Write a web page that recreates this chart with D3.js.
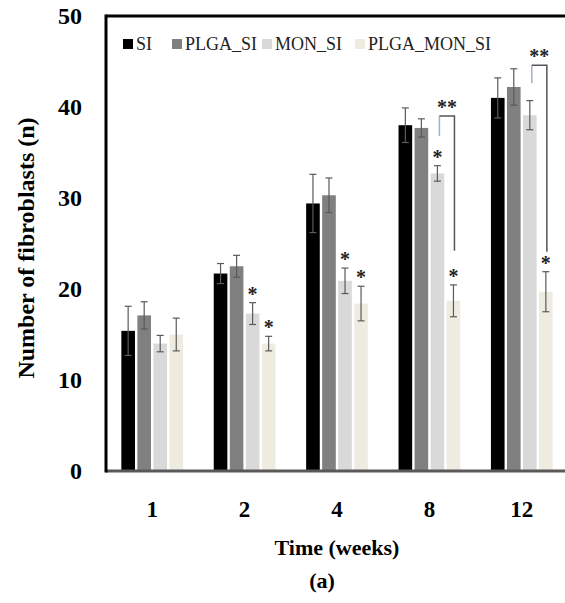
<!DOCTYPE html>
<html>
<head>
<meta charset="utf-8">
<script src="https://cdn.jsdelivr.net/npm/d3@7"></script>
<style>
  body { margin: 0; background: #fff; }
  text { font-family: "Liberation Serif", "Times New Roman", serif; }
</style>
</head>
<body>
<div id="chart"></div>
<script>
var weeks = ["1", "2", "4", "8", "12"];
var series = ["SI", "PLGA_SI", "MON_SI", "PLGA_MON_SI"];
var colors = ["#000000", "#808080", "#d9d9d9", "#eeece1"];

// mean values per series, one per week
var siVals       = [15.4, 21.7, 29.4, 38.0, 41.0];
var plgaSiVals   = [17.1, 22.5, 30.3, 37.7, 42.2];
var monSiVals    = [14.0, 17.3, 20.9, 32.7, 39.1];
var plgaMonVals  = [15.0, 14.0, 18.4, 18.7, 19.7];

// error bar half-widths
var siErr        = [2.7, 1.1, 3.2, 1.9, 2.2];
var plgaSiErr    = [1.5, 1.2, 1.9, 1.0, 2.0];
var monSiErr     = [0.9, 1.2, 1.4, 0.85, 1.6];
var plgaMonErr   = [1.8, 0.8, 1.9, 1.75, 2.2];

// single star flags
var monSiStar    = [0, 1, 1, 1, 0];
var plgaMonStar  = [0, 1, 1, 1, 1];

var yTicks = [0, 10, 20, 30, 40, 50];

// ** brackets between MON_SI and PLGA_MON_SI : [week, top, leftBottom, rightBottom]
var brackets = [["8", 39.0, 36.8, 24.2], ["12", 44.6, 42.6, 24.1]];

var values = [siVals, plgaSiVals, monSiVals, plgaMonVals];
var errs = [siErr, plgaSiErr, monSiErr, plgaMonErr];
var stars = [null, null, monSiStar, plgaMonStar];

var W = 565, H = 603;
var plotLeft = 106, plotTop = 16, plotBottom = 471, plotRight = 568;

var svg = d3.select("#chart").append("svg")
    .attr("width", W).attr("height", H);

var x0 = d3.scaleBand().domain(weeks).range([plotLeft, plotRight])
    .paddingInner(0.28).paddingOuter(0.14);
var x1 = d3.scaleBand().domain(series).range([0, x0.bandwidth()]).padding(0.15);
var y = d3.scaleLinear().domain([0, 50]).range([plotBottom, plotTop]);

var rows = [];
weeks.forEach(function(w, i) {
  series.forEach(function(s, j) {
    rows.push({week: w, s: s, j: j, v: values[j][i], e: errs[j][i],
               star: stars[j] ? stars[j][i] : 0});
  });
});

// bars
svg.append("g").selectAll("rect")
  .data(rows).enter().append("rect")
    .attr("x", function(d) { return x0(d.week) + x1(d.s); })
    .attr("y", function(d) { return y(d.v); })
    .attr("width", x1.bandwidth())
    .attr("height", function(d) { return y(0) - y(d.v); })
    .attr("fill", function(d) { return colors[d.j]; });

// error bars
var eb = svg.append("g").attr("stroke", "#5a5a5a").attr("stroke-width", 1.2);
rows.forEach(function(d) {
  var cx = x0(d.week) + x1(d.s) + x1.bandwidth() / 2;
  eb.append("line").attr("x1", cx).attr("x2", cx)
    .attr("y1", y(d.v + d.e)).attr("y2", y(d.v - d.e));
  [d.v + d.e, d.v - d.e].forEach(function(v) {
    eb.append("line").attr("x1", cx - 3.5).attr("x2", cx + 3.5)
      .attr("y1", y(v)).attr("y2", y(v));
  });
});

// stars
svg.append("g").selectAll("text")
  .data(rows.filter(function(d) { return d.star; })).enter().append("text")
    .attr("x", function(d) { return x0(d.week) + x1(d.s) + x1.bandwidth() / 2; })
    .attr("y", function(d) { return y(d.v + d.e) - 2; })
    .attr("text-anchor", "middle")
    .attr("font-size", 20).attr("font-weight", "bold").attr("fill", "#222")
    .text("*");

// brackets
brackets.forEach(function(b) {
  var xl = x0(b[0]) + x1("MON_SI") + x1.bandwidth() / 2 + 2;
  var xr = x0(b[0]) + x1("PLGA_MON_SI") + x1.bandwidth() / 2 + 1;
  svg.append("line").attr("x1", xl).attr("x2", xl)
    .attr("y1", y(b[1])).attr("y2", y(b[2]))
    .attr("stroke", "#9db3cc").attr("stroke-width", 1.5);
  svg.append("path")
    .attr("d", "M" + xl + "," + y(b[1]) + "H" + xr + "V" + y(b[3]))
    .attr("fill", "none").attr("stroke", "#555").attr("stroke-width", 1.5);
  svg.append("text").attr("x", (xl + xr) / 2).attr("y", y(b[1]) - 2)
    .attr("text-anchor", "middle")
    .attr("font-size", 20).attr("font-weight", "bold").attr("fill", "#222")
    .text("**");
});

// frame
svg.append("line").attr("x1", plotLeft).attr("x2", W).attr("y1", plotTop).attr("y2", plotTop)
  .attr("stroke", "#000").attr("stroke-width", 3);
svg.append("line").attr("x1", plotLeft).attr("x2", W).attr("y1", plotBottom).attr("y2", plotBottom)
  .attr("stroke", "#595959").attr("stroke-width", 3);
svg.append("line").attr("x1", plotLeft).attr("x2", plotLeft)
  .attr("y1", plotTop - 1.5).attr("y2", plotBottom + 1.5)
  .attr("stroke", "#000").attr("stroke-width", 3);

// y tick labels
svg.append("g").selectAll("text")
  .data(yTicks).enter().append("text")
    .attr("x", 82).attr("y", function(d) { return y(d); })
    .attr("dy", "0.35em")
    .attr("text-anchor", "end")
    .attr("font-size", 24).attr("font-weight", "bold")
    .text(function(d) { return d; });

// x tick labels
svg.append("g").selectAll("text")
  .data(weeks).enter().append("text")
    .attr("x", function(d) { return x0(d) + x0.bandwidth() / 2; })
    .attr("y", 517)
    .attr("text-anchor", "middle")
    .attr("font-size", 23).attr("font-weight", "bold")
    .text(function(d) { return d; });

svg.append("text").attr("x", 337).attr("y", 555)
  .attr("text-anchor", "middle").attr("font-size", 22).attr("font-weight", "bold")
  .text("Time (weeks)");

svg.append("text").attr("x", 322).attr("y", 588)
  .attr("text-anchor", "middle").attr("font-size", 22).attr("font-weight", "bold")
  .text("(a)");

svg.append("text")
  .attr("transform", "translate(34,248) rotate(-90)")
  .attr("text-anchor", "middle").attr("font-size", 24).attr("font-weight", "bold")
  .text("Number of fibroblasts (n)");

// legend
var legX = [123, 172, 262, 355];
var legend = svg.append("g").selectAll("g")
  .data(series).enter().append("g")
    .attr("transform", function(d, i) { return "translate(" + legX[i] + ",39)"; });
legend.append("rect").attr("width", 10).attr("height", 10)
  .attr("fill", function(d, i) { return colors[i]; });
legend.append("text").attr("x", 13).attr("y", 11)
  .attr("font-size", 18).attr("fill", "#222")
  .text(function(d) { return d; });
</script>
</body>
</html>
